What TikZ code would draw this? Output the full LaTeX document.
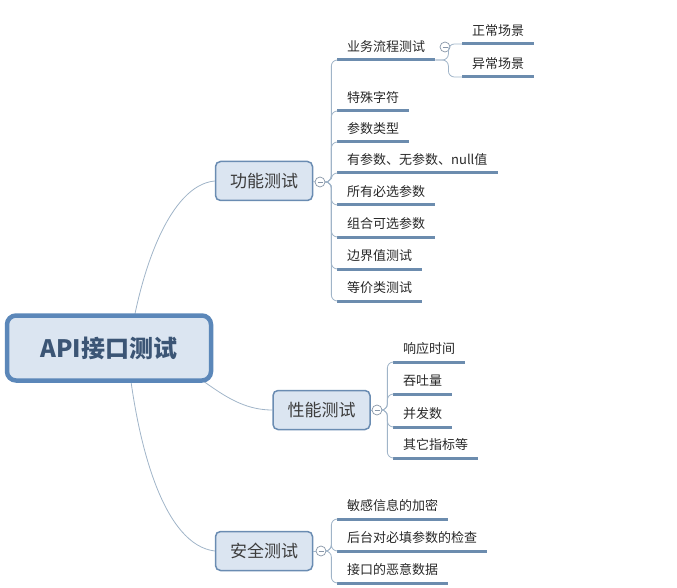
\documentclass[tikz,border=0pt]{standalone}
\usepackage{fontspec}
\setmainfont{Noto Sans CJK SC}
\usetikzlibrary{backgrounds}

\begin{document}
\begin{tikzpicture}[x=1pt, y=-1pt,
  conn/.style={draw=connblue, line width=0.8pt, rounded corners=6pt},
  uline/.style={draw=ulblue, line width=3pt},
  leaf/.style={anchor=south west, inner xsep=10pt, inner ysep=0pt,
    text height=11pt, text depth=8pt, text=leaftext,
    font=\fontsize{13pt}{15pt}\selectfont},
  topic/.style={draw=boxblue, line width=1.5pt, fill=boxfill, rounded corners=5pt,
    minimum width=97pt, minimum height=39pt, text=topictext,
    font=\fontsize{17pt}{20pt}\selectfont},
  rootbox/.style={draw=rootblue, line width=4.5pt, fill=boxfill, rounded corners=9pt,
    minimum width=204pt, minimum height=65pt, text=roottext,
    font=\fontsize{24pt}{28pt}\selectfont\bfseries},
  fold/.style={circle, draw=foldgray, fill=white, line width=0.7pt,
    minimum size=10pt, inner sep=0pt,
    path picture={\draw[foldgray, line width=0.7pt]
      ([xshift=-2.5pt]path picture bounding box.center) --
      ([xshift=2.5pt]path picture bounding box.center);}}
]

  \definecolor{connblue}{RGB}{160, 180, 200}
  \definecolor{ulblue}{RGB}{108, 140, 174}
  \definecolor{boxblue}{RGB}{106, 140, 178}
  \definecolor{rootblue}{RGB}{91, 135, 185}
  \definecolor{boxfill}{RGB}{219, 229, 241}
  \definecolor{foldgray}{RGB}{136, 150, 168}
  \definecolor{leaftext}{RGB}{40, 40, 40}
  \definecolor{topictext}{RGB}{60, 60, 60}
  \definecolor{roottext}{RGB}{59, 85, 117}

  \useasboundingbox (0,0) rectangle (677,588);

  % Central topic and main branches
  \node[rootbox] (root) at (109,348) {API接口测试};
  \node[topic] (func) at (264,181) {功能测试};
  \node[topic] (perf) at (321.5,410) {性能测试};
  \node[topic] (safe) at (264,551) {安全测试};

  \node[fold] (fc) at (320,182) {};
  \node[fold] (pc) at (377,410) {};
  \node[fold] (sc) at (321,551) {};

  % Functional test items
  \node[leaf] (f1) at (337,60)  {业务流程测试};
  \node[leaf] (f2) at (337,111) {特殊字符};
  \node[leaf] (f3) at (337,142) {参数类型};
  \node[leaf] (f4) at (337,173) {有参数、无参数、null值};
  \node[leaf] (f5) at (337,205) {所有必选参数};
  \node[leaf] (f6) at (337,237) {组合可选参数};
  \node[leaf] (f7) at (337,269) {边界值测试};
  \node[leaf] (f8) at (337,301) {等价类测试};

  \node[leaf] (f1a) at (462,44) {正常场景};
  \node[leaf] (f1b) at (462,77) {异常场景};
  \node[fold] (f1c) at (445,47) {};

  % Performance test items
  \node[leaf] (p1) at (393,362) {响应时间};
  \node[leaf] (p2) at (393,394) {吞吐量};
  \node[leaf] (p3) at (393,427) {并发数};
  \node[leaf] (p4) at (393,458) {其它指标等};

  % Security test items
  \node[leaf] (s1) at (337,519) {敏感信息的加密};
  \node[leaf] (s2) at (337,551) {后台对必填参数的检查};
  \node[leaf] (s3) at (337,583) {接口的恶意数据};

  % Underlines
  \foreach \n in {f1,f2,f3,f4,f5,f6,f7,f8,f1a,f1b,p1,p2,p3,p4,s1,s2,s3}
    \draw[uline] (\n.south west) -- (\n.south east);

  % Connectors
  \begin{scope}[on background layer]
    \draw[conn] ([xshift=20pt]root.center) .. controls (140,270) and (170,185) .. (func.west);
    \draw[conn] ([xshift=40pt]root.center) .. controls (200,370) and (225,410) .. (perf.west);
    \draw[conn] ([xshift=18pt]root.center) .. controls (137,450) and (165,545) .. (safe.west);
  \end{scope}

  \draw[conn] (func.east) -- (fc.west);
  \draw[conn] (perf.east) -- (pc.west);
  \draw[conn] (safe.east) -- (sc.west);

  \foreach \n in {f1,f2,f3,f4,f5,f6,f7,f8}
    \draw[conn] (fc.east) -- ++(6,0) |- (\n.south west);
  \foreach \n in {f1a,f1b}
    \draw[conn] (f1.south east) -- ++(13,0) |- (\n.south west);
  \foreach \n in {p1,p2,p3,p4}
    \draw[conn] (pc.east) -- ++(5,0) |- (\n.south west);
  \foreach \n in {s1,s2,s3}
    \draw[conn] (sc.east) -- ++(5,0) |- (\n.south west);

\end{tikzpicture}
\end{document}
